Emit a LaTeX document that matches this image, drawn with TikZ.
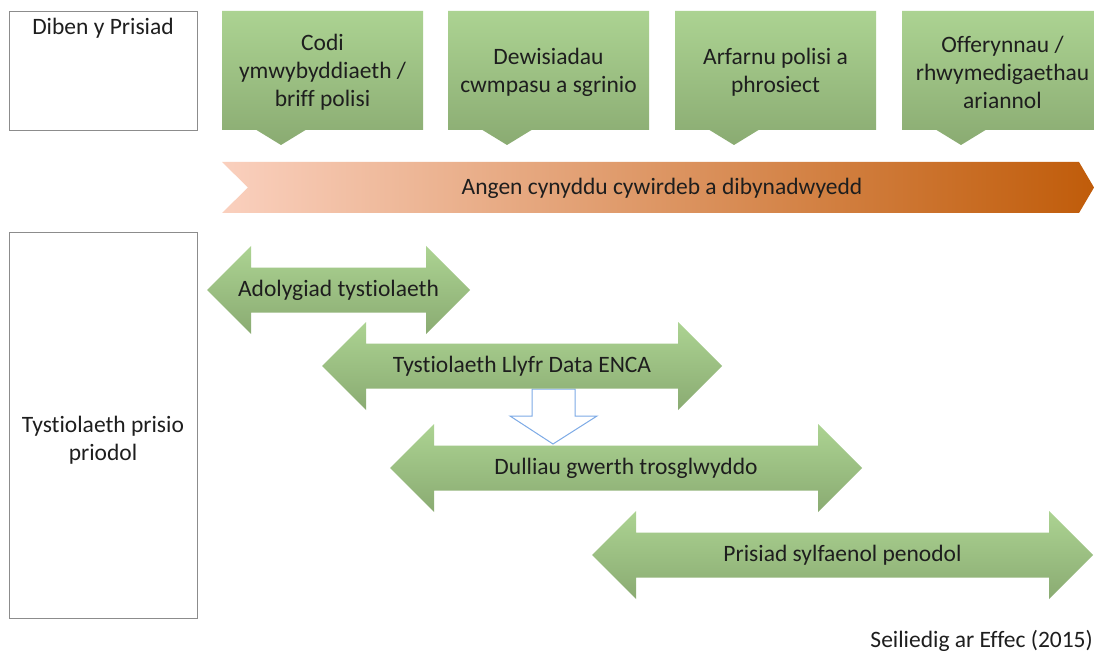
\documentclass[tikz,border=0pt]{standalone}
\usepackage{fontspec}
\setmainfont{Carlito}[RawFeature={-liga;-clig;-dlig;-calt;-rlig}]
\usetikzlibrary{calc}
\definecolor{gtop}{RGB}{172,211,146}
\definecolor{gbot}{RGB}{138,171,114}
\definecolor{bandL}{RGB}{250,208,190}
\definecolor{bandR}{RGB}{192,92,10}
\definecolor{txt}{RGB}{30,30,30}
\definecolor{blueline}{RGB}{125,170,230}
\definecolor{boxline}{RGB}{140,140,140}
\tikzset{
  lbl/.style={font=\fontsize{23.5}{28}\selectfont, text=txt, align=center, inner sep=0pt},
  greenfill/.style={top color=gtop, bottom color=gbot, draw=none},
  sidebox/.style={draw=boxline, line width=0.9pt, fill=white},
  hollowarrow/.style={draw=blueline, fill=white, line width=1pt, line join=miter},
}
\newcommand\calloutbox[3]{%
  \path[greenfill] (#1,11) -- ++(201,0) -- ++(0,119) -- ++(-117.5,0) -- ++(-24.5,15) -- ++(-24.5,-15) -- (#1,130) -- cycle;
  \node[lbl] (#2) at ({#1+100.5},72) {#3};
}
\newcommand\dblarr[5]{%
  \path[greenfill] (#1,#3) -- ({#1+44},{#3-44}) -- ({#1+44},{#3-22.5}) -- ({#2-44},{#3-22.5}) -- ({#2-44},{#3-44}) -- (#2,#3)
     -- ({#2-44},{#3+44}) -- ({#2-44},{#3+22.5}) -- ({#1+44},{#3+22.5}) -- ({#1+44},{#3+44}) -- cycle;
  \node[lbl] (#4) at ({(#1+#2)/2},#3) {#5};
}
\begin{document}
\begin{tikzpicture}[x=1pt,y=-1pt]
\path[use as bounding box, fill=white] (0,0) rectangle (1094,652);
\clip (0,0) rectangle (1094,652);

% left boxes
\draw[sidebox] (9,11) rectangle (197,130);
\node[lbl, anchor=base] (diben) at (103,35) {Diben y Prisiad};
\draw[sidebox] (9,232) rectangle (197,618);
\node[lbl] (tyst) at (103,440) {Tystiolaeth prisio\\priodol};

% callouts
\calloutbox{222}{c1}{Codi\\ymwybyddiaeth /\\briff polisi}
\calloutbox{448}{c2}{Dewisiadau\\cwmpasu a sgrinio}
\calloutbox{675}{c3}{Arfarnu polisi a\\phrosiect}
\calloutbox{902}{c4}{Offerynnau /\\rhwymedigaethau\\ariannol}

% band
\path[left color=bandL, right color=bandR] (222,162) -- (1079,162) -- (1094,187.5) -- (1079,213) -- (222,213) -- (248,187.5) -- cycle;
\node[lbl] (band) at (662,188) {Angen cynyddu cywirdeb a dibynadwyedd};

% blue hollow arrow
\path[hollowarrow] (532,389) -- (575,389) -- (575,416) -- (597,416) -- (553,444) -- (510,416) -- (532,416) -- cycle;

% double arrows
\dblarr{207}{470}{290}{a1}{Adolygiad tystiolaeth}
\dblarr{322}{722}{366}{a2}{Tystiolaeth Llyfr Data ENCA}
\dblarr{390}{862}{468}{a3}{Dulliau gwerth trosglwyddo}
\dblarr{592}{1093}{555}{a4}{Prisiad sylfaenol penodol}

\node[lbl, anchor=base east] (credit) at (1093,647) {Seiliedig ar Effec (2015)};
\end{tikzpicture}
\end{document}
